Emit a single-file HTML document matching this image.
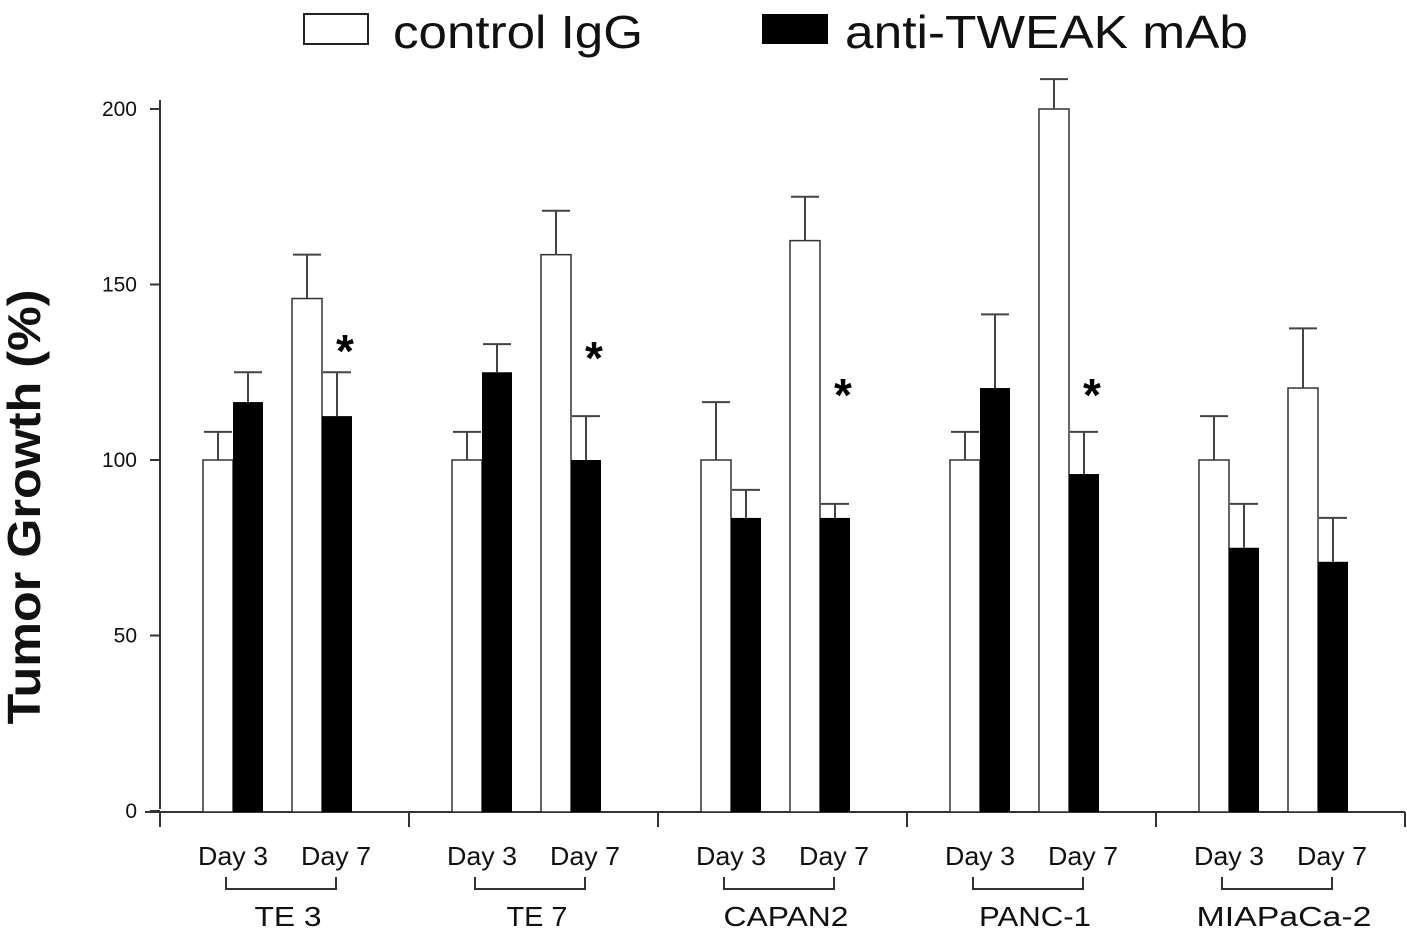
<!DOCTYPE html>
<html><head><meta charset="utf-8"><style>
body{margin:0;background:#fff}
svg{display:block;font-family:"Liberation Sans",Arial,sans-serif}
</style></head><body>
<svg id="c" width="1407" height="929">
<g>
<rect x="304" y="14" width="64" height="30" fill="#fff" stroke="#222" stroke-width="2"/>
<text x="393" y="48" font-size="46" textLength="250" lengthAdjust="spacingAndGlyphs" fill="#111">control IgG</text>
<rect x="762" y="14" width="66" height="30" fill="#000"/>
<text x="845" y="48" font-size="46" textLength="403" lengthAdjust="spacingAndGlyphs" fill="#111">anti-TWEAK mAb</text>
</g>
<text transform="translate(40,507) rotate(-90)" text-anchor="middle" font-size="46" textLength="435" lengthAdjust="spacingAndGlyphs" font-weight="bold" fill="#111">Tumor Growth (%)</text>
<g id="plot"></g>
</svg>
<script>
const groups=["TE 3","TE 7","CAPAN2","PANC-1","MIAPaCa-2"];
const days=["Day 3","Day 7"];
const controlVals=[100,146,100,158.5,100,162.5,100,200,100,120.5];
const controlErr=[108,158.5,108,171,116.5,175,108,208.5,112.5,137.5];
const antiVals=[116.5,112.5,125,100,83.5,83.5,120.5,96,75,71];
const antiErr=[125,125,133,112.5,91.5,87.5,141.5,108,87.5,83.5];
const sig=[false,true,false,true,false,true,false,true,false,false];
const sigPos=[0,135,0,133,0,122.5,0,122.5,0,0];
const yTicks=[0,50,100,150,200];
const groupLabelWidths=[67,61,125,112,175];
const NS="http://www.w3.org/2000/svg";
const g=document.getElementById('plot');
const y=v=>811-v*3.51;
const gx=i=>160+i*249;
function mk(t,a,p){const e=document.createElementNS(NS,t);for(const k in a)e.setAttribute(k,a[k]);(p||g).appendChild(e);return e;}
let ax=mk('line',{x1:160,y1:y(0)-2,x2:160,y2:100,stroke:'#333','stroke-width':2});


ax=mk('line',{x1:145,y1:812,x2:1405,y2:812,stroke:'#333','stroke-width':2});


yTicks.forEach(t=>{
 let l=mk('line',{x1:150,y1:y(t),x2:160,y2:y(t),stroke:'#333','stroke-width':2});
 
 
 let tx=mk('text',{x:137,y:y(t)+7,'text-anchor':'end','font-size':21,fill:'#111'});tx.textContent=t;
 
 
});
for(let i=0;i<=5;i++){
 let l=mk('line',{x1:gx(i),y1:812,x2:gx(i),y2:827,stroke:'#333','stroke-width':2});
 
 
}
function bar(x,v,e,fill,name){
 let r=mk('rect',{x:x,y:y(v),width:30,height:y(0)-y(v)+1,fill:fill,stroke:fill=='#000'?'#000':'#333','stroke-width':fill=='#000'?0:1.5});
 
 
 let cx=x+15;
 let eb=mk('path',{d:`M${cx},${y(v)}V${y(e)}M${x+1},${y(e)}H${x+29}`,stroke:'#444','stroke-width':2,fill:'none'});
 
 
}
groups.forEach((gn,i)=>{
 const b=gx(i);
 days.forEach((d,j)=>{
  const k=i*2+j;
  const x0=b+43+j*89;
  bar(x0,controlVals[k],controlErr[k],'#fff','bar-control');
  bar(x0+30,antiVals[k],antiErr[k],'#000','bar-anti');
  if(sig[k]){let s=mk('text',{x:x0+53,y:y(sigPos[k])+30,'text-anchor':'middle','font-size':46,'font-weight':'bold'});s.textContent='*';
   
   }
  let t=mk('text',{x:j==0?b+73:b+176,y:865,'text-anchor':'middle','font-size':26,textLength:70,lengthAdjust:'spacingAndGlyphs',fill:'#111'});t.textContent=d;
  
  
 });
 let br=mk('path',{d:`M${b+66},877V889H${b+176}V877`,stroke:'#333','stroke-width':2,fill:'none'});
 
 
 let gt=mk('text',{x:b+128,y:926,'text-anchor':'middle','font-size':28,textLength:groupLabelWidths[i],lengthAdjust:'spacingAndGlyphs',fill:'#111'});gt.textContent=gn;
 
 
});
</script>
</body></html>
